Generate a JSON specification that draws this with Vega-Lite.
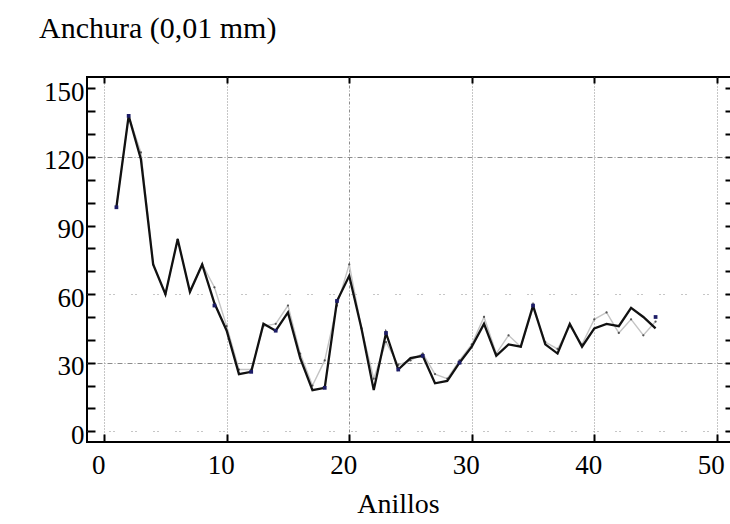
{
  "$schema": "https://vega.github.io/schema/vega-lite/v6.json",
  "width": 647,
  "height": 365,
  "autosize": "none",
  "padding": {"left": 87, "top": 77, "right": 0, "bottom": 82},
  "background": "white",
  "config": {"view": {"stroke": "#000", "strokeWidth": 2}, "font": "Liberation Serif"},
  "title": {"text": "Anchura (0,01 mm)", "anchor": "start", "frame": "group", "orient": "top", "baseline": "alphabetic", "offset": 8, "dx": -48, "fontSize": 30, "fontWeight": "normal", "font": "Liberation Serif", "color": "#000"},
  "datasets": {
    "series": [
      {"anillo": 1, "negra": 98, "gris": 98},
      {"anillo": 2, "negra": 138, "gris": 138},
      {"anillo": 3, "negra": 119, "gris": 122},
      {"anillo": 4, "negra": 73, "gris": 73},
      {"anillo": 5, "negra": 60, "gris": 60},
      {"anillo": 6, "negra": 84, "gris": 84},
      {"anillo": 7, "negra": 61, "gris": 61},
      {"anillo": 8, "negra": 73, "gris": 73},
      {"anillo": 9, "negra": 56, "gris": 63},
      {"anillo": 10, "negra": 44, "gris": 46},
      {"anillo": 11, "negra": 25, "gris": 27},
      {"anillo": 12, "negra": 26, "gris": 27},
      {"anillo": 13, "negra": 47, "gris": 46},
      {"anillo": 14, "negra": 44, "gris": 47},
      {"anillo": 15, "negra": 52, "gris": 55},
      {"anillo": 16, "negra": 32, "gris": 34},
      {"anillo": 17, "negra": 18, "gris": 20},
      {"anillo": 18, "negra": 19, "gris": 31},
      {"anillo": 19, "negra": 57, "gris": 55},
      {"anillo": 20, "negra": 68, "gris": 73},
      {"anillo": 21, "negra": 45, "gris": 45},
      {"anillo": 22, "negra": 18, "gris": 23},
      {"anillo": 23, "negra": 43, "gris": 39},
      {"anillo": 24, "negra": 27, "gris": 29},
      {"anillo": 25, "negra": 32, "gris": 31},
      {"anillo": 26, "negra": 33, "gris": 34},
      {"anillo": 27, "negra": 21, "gris": 25},
      {"anillo": 28, "negra": 22, "gris": 23},
      {"anillo": 29, "negra": 30, "gris": 31},
      {"anillo": 30, "negra": 37, "gris": 38},
      {"anillo": 31, "negra": 47, "gris": 50},
      {"anillo": 32, "negra": 33, "gris": 34},
      {"anillo": 33, "negra": 38, "gris": 42},
      {"anillo": 34, "negra": 37, "gris": 37},
      {"anillo": 35, "negra": 55, "gris": 54},
      {"anillo": 36, "negra": 38, "gris": 39},
      {"anillo": 37, "negra": 34, "gris": 36},
      {"anillo": 38, "negra": 47, "gris": 46},
      {"anillo": 39, "negra": 37, "gris": 38},
      {"anillo": 40, "negra": 45, "gris": 49},
      {"anillo": 41, "negra": 47, "gris": 52},
      {"anillo": 42, "negra": 46, "gris": 43},
      {"anillo": 43, "negra": 54, "gris": 49},
      {"anillo": 44, "negra": 50, "gris": 42},
      {"anillo": 45, "negra": 45, "gris": 48}
    ],
    "marcas": [
      {"anillo": 1, "valor": 98},
      {"anillo": 2, "valor": 138},
      {"anillo": 9, "valor": 55},
      {"anillo": 12, "valor": 26},
      {"anillo": 14, "valor": 44},
      {"anillo": 18, "valor": 19},
      {"anillo": 19, "valor": 57},
      {"anillo": 23, "valor": 43},
      {"anillo": 24, "valor": 27},
      {"anillo": 26, "valor": 33},
      {"anillo": 29, "valor": 30},
      {"anillo": 35, "valor": 55},
      {"anillo": 45, "valor": 50}
    ]
  },
  "layer": [
    {
      "data": {"name": "series"},
      "mark": {"type": "line", "color": "#c4c4c4", "strokeWidth": 1.4},
      "encoding": {
        "x": {"field": "anillo", "type": "quantitative",
          "scale": {"domain": [-1.4, 51.4], "nice": false, "zero": false},
          "axis": {"orient": "bottom", "values": [0, 10, 20, 30, 40, 50], "tickSize": -8, "tickColor": "#000", "tickWidth": 2,
            "domain": false, "labelFont": "Liberation Serif", "labelFontSize": 27, "labelColor": "#000", "labelPadding": 18, "labelFlush": false,
            "labelOffset": -6,
            "grid": true, "gridColor": "#8c8c8c", "gridWidth": 1,
            "gridDash": {"condition": {"test": "datum.value === 20", "value": [3, 2, 1, 2]}, "value": [1, 2]},
            "title": "Anillos", "titleFont": "Liberation Serif", "titleFontSize": 28, "titleFontWeight": "normal", "titleColor": "#000",
            "titleX": 311, "titleY": 70, "titleBaseline": "alphabetic", "titleAlign": "center"}
        },
        "y": {"field": "gris", "type": "quantitative",
          "scale": {"domain": [-4.7, 155], "nice": false, "zero": false},
          "axis": {"orient": "left", "values": [0, 10, 20, 30, 40, 50, 60, 70, 80, 90, 100, 110, 120, 130, 140, 150],
            "labelExpr": "datum.value % 30 === 0 ? datum.label : ''", "labelOverlap": false,
            "tickSize": -8, "tickColor": "#000", "tickWidth": 2, "domain": false,
            "labelFont": "Liberation Serif", "labelFontSize": 27, "labelColor": "#000", "labelPadding": 11,
            "labelBaseline": "alphabetic", "labelOffset": 12, "labelFlush": false,
            "grid": true, "gridColor": "#8c8c8c", "gridWidth": 1,
            "gridOpacity": {"condition": {"test": "indexof([0, 30, 60, 120], datum.value) >= 0", "value": 1}, "value": 0},
            "gridDash": {"condition": {"test": "datum.value === 30 || datum.value === 120", "value": [5, 2, 1, 2]}, "value": [1, 3, 1, 17]},
            "title": null}
        }
      }
    },
    {
      "data": {"name": "series"},
      "mark": {"type": "point", "filled": true, "color": "#555", "size": 5, "opacity": 1},
      "encoding": {
        "x": {"field": "anillo", "type": "quantitative", "axis": null},
        "y": {"field": "gris", "type": "quantitative", "axis": null}
      }
    },
    {
      "data": {"name": "series"},
      "mark": {"type": "line", "color": "#111", "strokeWidth": 2.3},
      "encoding": {
        "x": {"field": "anillo", "type": "quantitative", "axis": null},
        "y": {"field": "negra", "type": "quantitative", "axis": null}
      }
    },
    {
      "data": {"name": "marcas"},
      "mark": {"type": "square", "filled": true, "color": "#1c1c66", "size": 14, "opacity": 1},
      "encoding": {
        "x": {"field": "anillo", "type": "quantitative",
          "axis": {"orient": "top", "values": [0, 10, 20, 30, 40, 50], "tickSize": -6, "tickColor": "#000", "tickWidth": 2,
            "labels": false, "domain": false, "grid": false, "title": null}},
        "y": {"field": "valor", "type": "quantitative",
          "axis": {"orient": "right", "values": [0, 10, 20, 30, 40, 50, 60, 70, 80, 90, 100, 110, 120, 130, 140, 150],
            "tickSize": -9, "tickColor": "#000", "tickWidth": 2, "labels": false, "domain": false, "grid": false, "title": null}}
      }
    }
  ],
  "resolve": {"axis": {"x": "independent", "y": "independent"}}
}
